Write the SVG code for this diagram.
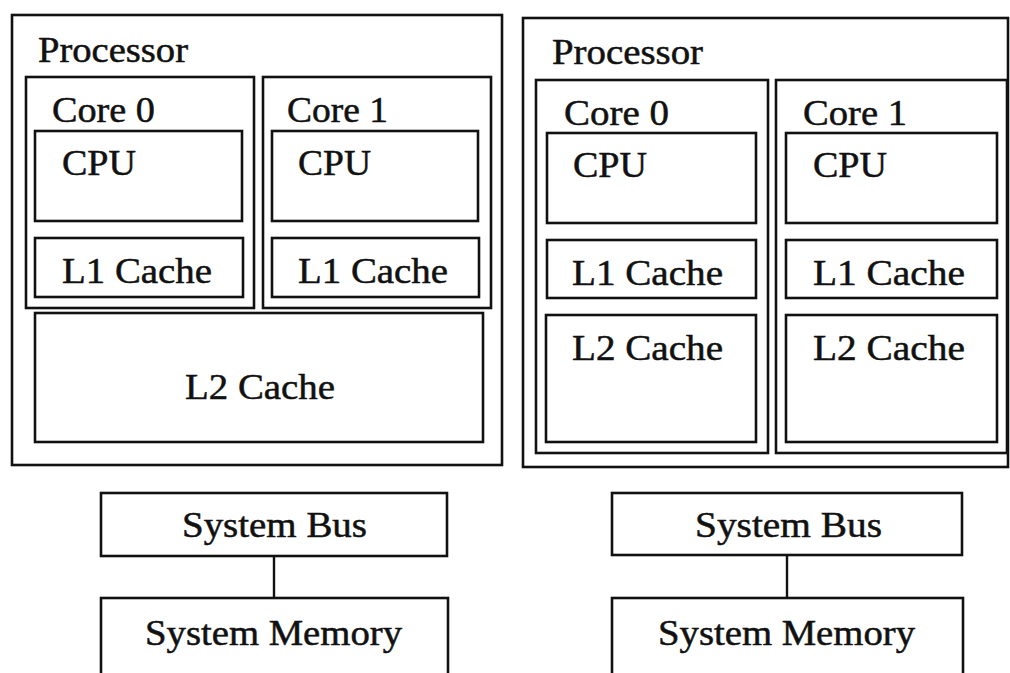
<svg xmlns="http://www.w3.org/2000/svg" width="1010" height="673" viewBox="0 0 1010 673">
<style>
.b{fill:none;stroke:#111;stroke-width:2.6}
.t{font-family:"Liberation Serif","Times New Roman",serif;font-size:35px;fill:#111;stroke:#111;stroke-width:0.5}
.c{stroke:#111;stroke-width:2.4}
</style>
<rect width="1010" height="673" fill="#fff"/>
<g id="left-processor">
<rect class="b" x="12" y="15" width="490" height="450"/>
<text class="t" x="38" y="62" textLength="150" lengthAdjust="spacingAndGlyphs">Processor</text>
</g>
<g id="left-core0">
<rect class="b" x="26" y="77" width="228" height="231"/>
<text class="t" x="52" y="122" textLength="103" lengthAdjust="spacingAndGlyphs">Core 0</text>
</g>
<g id="left-core0-cpu">
<rect class="b" x="35" y="131" width="207" height="90"/>
<text class="t" x="62" y="175" textLength="74" lengthAdjust="spacingAndGlyphs">CPU</text>
</g>
<g id="left-core0-l1">
<rect class="b" x="35" y="238" width="208" height="59"/>
<text class="t" x="62" y="283" textLength="150" lengthAdjust="spacingAndGlyphs">L1 Cache</text>
</g>
<g id="left-core1">
<rect class="b" x="263" y="77" width="228" height="231"/>
<text class="t" x="287" y="122" textLength="101" lengthAdjust="spacingAndGlyphs">Core 1</text>
</g>
<g id="left-core1-cpu">
<rect class="b" x="272" y="131" width="206" height="90"/>
<text class="t" x="298" y="175" textLength="73" lengthAdjust="spacingAndGlyphs">CPU</text>
</g>
<g id="left-core1-l1">
<rect class="b" x="272" y="238" width="207" height="59"/>
<text class="t" x="298" y="283" textLength="150" lengthAdjust="spacingAndGlyphs">L1 Cache</text>
</g>
<g id="left-l2">
<rect class="b" x="35" y="313" width="448" height="129"/>
<text class="t" x="185" y="399" textLength="150" lengthAdjust="spacingAndGlyphs">L2 Cache</text>
</g>
<g id="right-processor">
<rect class="b" x="523" y="18" width="485" height="449"/>
<text class="t" x="552" y="64" textLength="151" lengthAdjust="spacingAndGlyphs">Processor</text>
</g>
<g id="right-core0">
<rect class="b" x="536" y="80" width="232" height="373"/>
<text class="t" x="564" y="125" textLength="105" lengthAdjust="spacingAndGlyphs">Core 0</text>
</g>
<g id="right-core0-cpu">
<rect class="b" x="547" y="133" width="209" height="90"/>
<text class="t" x="573" y="177" textLength="74" lengthAdjust="spacingAndGlyphs">CPU</text>
</g>
<g id="right-core0-l1">
<rect class="b" x="547" y="240" width="209" height="58"/>
<text class="t" x="572" y="285" textLength="151" lengthAdjust="spacingAndGlyphs">L1 Cache</text>
</g>
<g id="right-core0-l2">
<rect class="b" x="546" y="315" width="210" height="127"/>
<text class="t" x="572" y="360" textLength="151" lengthAdjust="spacingAndGlyphs">L2 Cache</text>
</g>
<g id="right-core1">
<rect class="b" x="776" y="80" width="231" height="373"/>
<text class="t" x="803" y="125" textLength="104" lengthAdjust="spacingAndGlyphs">Core 1</text>
</g>
<g id="right-core1-cpu">
<rect class="b" x="786" y="133" width="211" height="90"/>
<text class="t" x="813" y="177" textLength="74" lengthAdjust="spacingAndGlyphs">CPU</text>
</g>
<g id="right-core1-l1">
<rect class="b" x="786" y="240" width="211" height="58"/>
<text class="t" x="813" y="285" textLength="152" lengthAdjust="spacingAndGlyphs">L1 Cache</text>
</g>
<g id="right-core1-l2">
<rect class="b" x="786" y="315" width="211" height="127"/>
<text class="t" x="813" y="360" textLength="152" lengthAdjust="spacingAndGlyphs">L2 Cache</text>
</g>
<g id="left-bus">
<rect class="b" x="101" y="493" width="346" height="63"/>
<text class="t" x="182" y="537" textLength="185" lengthAdjust="spacingAndGlyphs">System Bus</text>
</g>
<g id="left-memory">
<rect class="b" x="101" y="598" width="347" height="90"/>
<text class="t" x="145" y="645" textLength="257" lengthAdjust="spacingAndGlyphs">System Memory</text>
</g>
<g id="right-bus">
<rect class="b" x="612" y="493" width="350" height="62"/>
<text class="t" x="695" y="537" textLength="187" lengthAdjust="spacingAndGlyphs">System Bus</text>
</g>
<g id="right-memory">
<rect class="b" x="612" y="598" width="351" height="90"/>
<text class="t" x="658" y="645" textLength="257" lengthAdjust="spacingAndGlyphs">System Memory</text>
</g>
<g id="connectors">
<line class="c" x1="274" y1="556" x2="274" y2="598"/>
<line class="c" x1="787" y1="555" x2="787" y2="598"/>
</g>
</svg>
